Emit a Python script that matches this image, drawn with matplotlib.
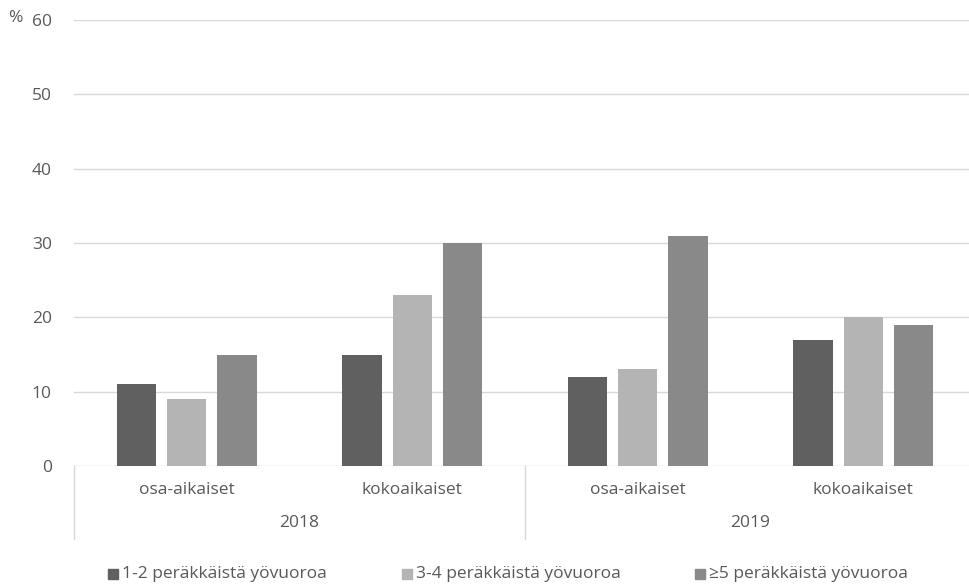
import matplotlib.pyplot as plt
from matplotlib.lines import Line2D
import numpy as np

plt.rcParams['font.family'] = ['Open Sans', 'DejaVu Sans']

years = ["2018", "2019"]
groups = ["osa-aikaiset", "kokoaikaiset"]
series_names = ["1-2 peräkkäistä yövuoroa", "3-4 peräkkäistä yövuoroa", "≥5 peräkkäistä yövuoroa"]
vals_12 = [11, 15, 12, 17]
vals_34 = [9, 23, 13, 20]
vals_5 = [15, 30, 31, 19]
yticks = [0, 10, 20, 30, 40, 50, 60]

colors = ["#606060", "#b4b4b4", "#898989"]
text_col = "#595959"
grid_col = "#d9d9d9"
fs = 12.5

W, H = 970, 586
fig = plt.figure(figsize=(W / 100, H / 100), dpi=100)
left, right, bottom, top = 74, 976, 466, 20
ax = fig.add_axes([left / W, 1 - bottom / H, (right - left) / W, (bottom - top) / H])

n = len(vals_12)
centers = np.arange(n) + 0.5
bw = 0.175
step = 0.222
for i, (vals, c) in enumerate(zip([vals_12, vals_34, vals_5], colors)):
    ax.bar(centers + (i - 1) * step, vals, width=bw, color=c, zorder=3, label=series_names[i])

ax.set_xlim(0, n)
ax.set_ylim(0, 60)
ax.set_yticks(yticks)
ax.set_yticklabels([str(t) for t in yticks], color=text_col, fontsize=fs)
ax.tick_params(axis='y', length=0, pad=16)
ax.set_xticks([])
for t in yticks:
    ax.axhline(t, color=grid_col, lw=1, zorder=1)
for s in ax.spines.values():
    s.set_visible(False)

# multi-level category axis
trans = ax.get_xaxis_transform()
def yfrac(py):
    return (bottom - py) / (bottom - top)
for x in [0, n / 2, n]:
    ax.add_line(Line2D([x, x], [0, yfrac(539)], transform=trans, color=grid_col, lw=1, clip_on=False))
for i, c in enumerate(centers):
    ax.text(c, yfrac(490), groups[i % 2], transform=trans, ha='center', va='center',
            color=text_col, fontsize=fs)
for j, yr in enumerate(years):
    ax.text(1 + 2 * j, yfrac(523), yr, transform=trans, ha='center', va='center',
            color=text_col, fontsize=fs)

fig.text(8 / W, 1 - 18 / H, "%", color=text_col, fontsize=fs, va='center', ha='left')

# legend
leg_x = [108, 402, 695]
for i, (name, c) in enumerate(zip(series_names, colors)):
    fig.patches.append(plt.Rectangle((leg_x[i] / W, 1 - 579 / H), 10 / W, 10 / H,
                                     transform=fig.transFigure, color=c))
    fig.text((leg_x[i] + 14) / W, 1 - 574 / H, name, color=text_col, fontsize=fs,
             va='center', ha='left')

fig.savefig("out.png", dpi=100, facecolor='white')
